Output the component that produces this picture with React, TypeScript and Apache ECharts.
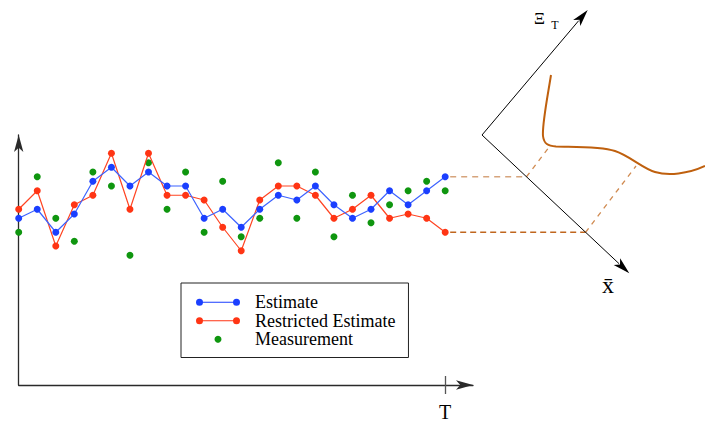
import { useEffect, useRef } from "react";
import * as echarts from "echarts";

// Time steps of the filter run; the last one is the current time T.
const timeSteps = [0, 1, 2, 3, 4, 5, 6, 7, 8, 9, 10, 11, 12, 13, 14, 15, 16, 17, 18, 19, 20, 21, 22, 23];
const tickLabels = ["T"];

const estimate = [6.67, 7.03, 6.11, 6.84, 8.15, 8.71, 7.96, 8.52, 7.96, 7.96, 6.67, 7.03, 6.31, 7.03, 7.59, 7.4, 7.96, 7.21, 6.67, 7.03, 7.77, 7.21, 7.77, 8.33];
const restrictedEstimate = [7.03, 7.77, 5.56, 7.21, 7.59, 9.27, 7.03, 9.27, 7.59, 7.59, 7.4, 6.31, 5.37, 7.4, 7.96, 7.96, 7.59, 6.67, 7.03, 7.59, 6.67, 6.84, 6.67, 6.11];
const measurement = [6.11, 8.33, 6.67, 5.75, 8.52, 7.96, 5.19, 8.89, 7.03, 8.52, 6.11, 8.15, 5.93, 6.67, 8.89, 6.67, 8.52, 5.93, 7.59, 6.49, 7.21, 7.77, 8.15, 7.77];

const BLUE = "#1b3fff";
const BLUE_LINE = "#3d63ff";
const RED = "#ff3514";
const RED_LINE = "#ff4422";
const GREEN = "#0f960f";
const BROWN = "#bf600e";
const SERIF = "Times New Roman, Liberation Serif, Times, serif";

// State-space curve drawn in the projection sketch on the right.
echarts.graphic.registerShape(
  "trajectory",
  echarts.graphic.extendPath(
    "M551,75 C547,100 542,125 543,136 C544,144 548,146 556,146.5 C575,147 600,146 615,151 C630,156 642,168 655,172 C668,176 688,174 705,166",
    {}
  )
);

// Legend icon: a short line segment with a dot at each end.
const pairIcon =
  "path://M0,3.5A3.5,3.5,0,1,1,7,3.5A3.5,3.5,0,1,1,0,3.5Z M37,3.5A3.5,3.5,0,1,1,44,3.5A3.5,3.5,0,1,1,37,3.5Z M3.5,3H40.5V4H3.5Z";

const pairs = (ys: number[]) => timeSteps.map((t, i) => [t, ys[i]]);

type Pt = [number, number];

function arrowHead(tip: Pt, from: Pt, len = 17, halfWidth = 4.7): Pt[] {
  const dx = tip[0] - from[0];
  const dy = tip[1] - from[1];
  const d = Math.hypot(dx, dy);
  const ux = dx / d;
  const uy = dy / d;
  const nx = -uy;
  const ny = ux;
  const bx = tip[0] - ux * len;
  const by = tip[1] - uy * len;
  return [
    tip,
    [bx + nx * halfWidth, by + ny * halfWidth],
    [tip[0] - ux * len * 0.75, tip[1] - uy * len * 0.75],
    [bx - nx * halfWidth, by - ny * halfWidth],
  ];
}

// Projection sketch: two axes meeting at a vertex, the curve, and the
// dashed projections of the final estimates onto the x̄ axis.
const vertex: Pt = [482, 135];
const xiTip: Pt = [587.7, 10];
const xbarTip: Pt = [629.3, 273.3];
const blueCurveEnd: Pt = [550, 146];
const redCurveEnd: Pt = [636, 166];

function onXbarAxis(y: number): Pt {
  const t = (y - vertex[1]) / (xbarTip[1] - vertex[1]);
  return [vertex[0] + t * (xbarTip[0] - vertex[0]), y];
}

function back(tip: Pt, from: Pt, len: number): Pt {
  const dx = tip[0] - from[0];
  const dy = tip[1] - from[1];
  const d = Math.hypot(dx, dy);
  return [tip[0] - (dx / d) * len, tip[1] - (dy / d) * len];
}

function label(text: string, x: number, y: number, size: number) {
  return {
    type: "text",
    x,
    y,
    z: 10,
    style: {
      text,
      fontFamily: SERIF,
      fontSize: size,
      fill: "#000",
      align: "center",
      verticalAlign: "middle",
    },
  };
}

function sketch(blueEnd: Pt, redEnd: Pt) {
  const bHit = onXbarAxis(blueEnd[1]);
  const rHit = onXbarAxis(redEnd[1]);
  return [
    {
      type: "polyline",
      shape: { points: [back(xiTip, vertex, 14), vertex, back(xbarTip, vertex, 14)] },
      style: { stroke: "#000", lineWidth: 1, fill: "none" },
      z: 10,
    },
    { type: "polygon", shape: { points: arrowHead(xiTip, vertex) }, style: { fill: "#000" }, z: 10 },
    { type: "polygon", shape: { points: arrowHead(xbarTip, vertex) }, style: { fill: "#000" }, z: 10 },
    {
      type: "trajectory",
      x: 0,
      y: 0,
      style: { stroke: BROWN, lineWidth: 2, fill: "none" },
      z: 10,
    },
    {
      type: "line",
      shape: { x1: blueEnd[0] + 5, y1: blueEnd[1], x2: bHit[0], y2: bHit[1] },
      style: { stroke: "#d6a47c", lineWidth: 1.6, lineDash: [6, 5] },
      z: 9,
    },
    {
      type: "line",
      shape: { x1: redEnd[0] + 5, y1: redEnd[1], x2: rHit[0], y2: rHit[1] },
      style: { stroke: "#c0661e", lineWidth: 1.3, lineDash: [6, 4] },
      z: 9,
    },
    {
      type: "line",
      shape: { x1: bHit[0], y1: bHit[1], x2: blueCurveEnd[0], y2: blueCurveEnd[1] },
      style: { stroke: "#d08a50", lineWidth: 1.3, lineDash: [5, 5] },
      z: 9,
    },
    {
      type: "line",
      shape: { x1: rHit[0], y1: rHit[1], x2: redCurveEnd[0], y2: redCurveEnd[1] },
      style: { stroke: "#d08a50", lineWidth: 1.3, lineDash: [5, 5] },
      z: 9,
    },
    label("Ξ", 539.5, 18.7, 17),
    label("T", 555, 25, 12),
    label("x̄", 608, 285, 24),
  ];
}

export default function App() {
  const ref = useRef<HTMLDivElement>(null);

  useEffect(() => {
    if (!ref.current) return;
    const chart = echarts.init(ref.current, undefined, { renderer: "svg" });
    const lastStep = timeSteps[timeSteps.length - 1];

    const axisArrow = {
      show: true,
      symbol: ["none", "arrow"],
      symbolSize: [7, 17],
      lineStyle: { color: "#2a2a2a", width: 1.3 },
    };

    chart.setOption({
      animation: false,
      backgroundColor: "#fff",
      textStyle: { fontFamily: SERIF },
      grid: { left: 18.7, right: 232, top: 135, bottom: 38, containLabel: false, outerBoundsMode: "none" },
      xAxis: [
        {
          type: "value",
          min: 0,
          max: 24.5,
          axisLine: axisArrow,
          splitLine: { show: false },
          axisTick: { show: true, customValues: [lastStep], length: 9, lineStyle: { color: "#555", width: 1.3 } },
          axisLabel: {
            show: true,
            customValues: [lastStep],
            formatter: () => tickLabels[0],
            margin: 17,
            fontFamily: SERIF,
            fontSize: 20,
            color: "#000",
          },
        },
        {
          type: "value",
          position: "bottom",
          min: 0,
          max: 24.5,
          axisLine: { show: false },
          splitLine: { show: false },
          axisTick: { show: true, inside: true, customValues: [lastStep], length: 9, lineStyle: { color: "#555", width: 1.3 } },
          axisLabel: { show: false },
        },
      ],
      yAxis: {
        type: "value",
        min: 0,
        max: 10,
        axisLine: axisArrow,
        splitLine: { show: false },
        axisTick: { show: false },
        axisLabel: { show: false },
      },
      legend: {
        orient: "vertical",
        left: 181,
        top: 283,
        itemWidth: 44,
        itemHeight: 7,
        itemGap: 0,
        padding: [10, 13, 9, 15],
        borderColor: "#222",
        borderWidth: 1,
        textStyle: { fontFamily: SERIF, fontSize: 18, color: "#000", lineHeight: 18.5, padding: [0, 0, 0, 10] },
        data: [
          { name: "Estimate", icon: pairIcon },
          { name: "Restricted Estimate", icon: pairIcon },
          { name: "Measurement", icon: "circle" },
        ],
      },
      series: [
        {
          name: "Measurement",
          type: "scatter",
          data: pairs(measurement),
          symbol: "circle",
          symbolSize: 7,
          itemStyle: { color: GREEN, opacity: 1 },
          z: 2,
        },
        {
          name: "Restricted Estimate",
          type: "line",
          data: pairs(restrictedEstimate),
          symbol: "circle",
          symbolSize: 7,
          showAllSymbol: true,
          color: RED,
          itemStyle: { color: RED, borderWidth: 0 },
          lineStyle: { color: RED_LINE, width: 1.2 },
          z: 3,
        },
        {
          name: "Estimate",
          type: "line",
          data: pairs(estimate),
          symbol: "circle",
          symbolSize: 7,
          showAllSymbol: true,
          color: BLUE,
          itemStyle: { color: BLUE, borderWidth: 0 },
          lineStyle: { color: BLUE_LINE, width: 1.2 },
          z: 4,
        },
      ],
    });

    const blueEnd = chart.convertToPixel({ gridIndex: 0 }, [lastStep, estimate[estimate.length - 1]]) as Pt;
    const redEnd = chart.convertToPixel({ gridIndex: 0 }, [lastStep, restrictedEstimate[restrictedEstimate.length - 1]]) as Pt;
    chart.setOption({ graphic: sketch(blueEnd, redEnd) });

    return () => chart.dispose();
  }, []);

  return <div ref={ref} style={{ position: "fixed", left: 0, top: 0, width: 705, height: 423 }} />;
}
